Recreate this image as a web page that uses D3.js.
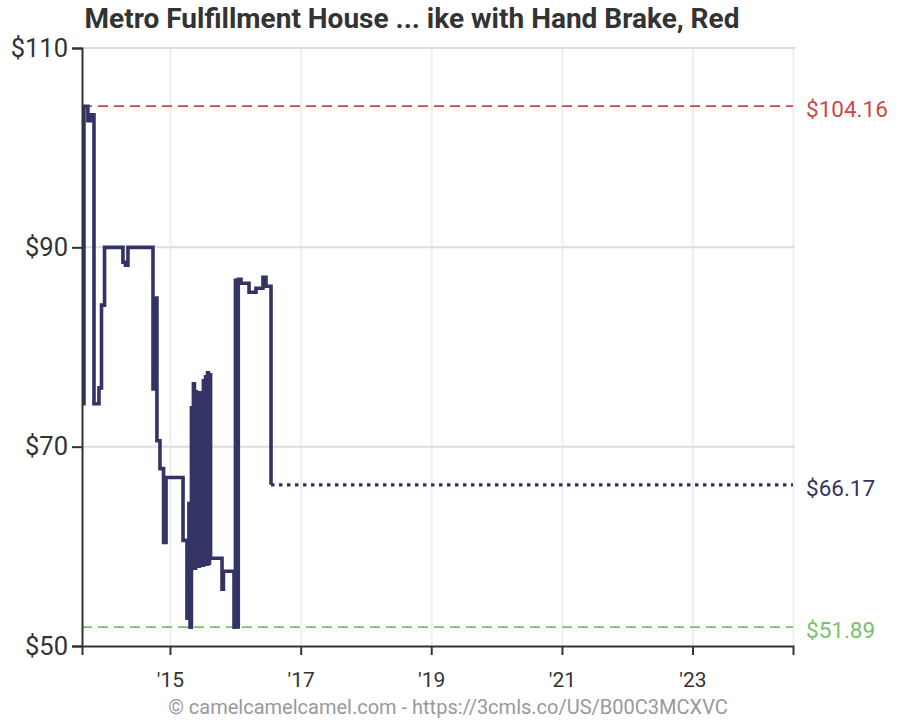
<!DOCTYPE html>
<html><head><meta charset="utf-8">
<script src="https://cdn.jsdelivr.net/npm/d3@7"></script>
<style>body{margin:0;background:#fff}svg{display:block;font-family:Roboto,sans-serif}</style>
</head><body><svg id="c" width="900" height="720"></svg>
<script>
const titleText = "Metro Fulfillment House ... ike with Hand Brake, Red";
const footerText = "© camelcamelcamel.com - https://3cmls.co/US/B00C3MCXVC";
const dates = ["2013-09-01","2013-09-07","2013-09-29","2013-10-16","2013-11-02","2013-11-30","2013-12-14","2013-12-31",
"2014-04-13","2014-04-27","2014-05-11","2014-09-28","2014-10-09","2014-10-20","2014-11-06","2014-11-26","2014-12-10",
"2015-03-15","2015-04-06","2015-04-17","2015-04-23","2015-05-01","2015-05-07","2015-05-12","2015-05-18","2015-05-24",
"2015-05-29","2015-06-04","2015-06-09","2015-06-15","2015-06-21","2015-06-26","2015-07-02","2015-07-07","2015-07-13",
"2015-07-19","2015-07-24","2015-07-30","2015-08-04","2015-08-10","2015-08-16","2015-10-19","2015-10-27","2015-12-25",
"2016-01-02","2016-01-10","2016-01-18","2016-02-02","2016-03-18","2016-04-26","2016-06-04","2016-06-21","2016-07-19"];
const prices = [74.3,104.16,102.7,103.3,74.3,75.9,84.2,90.0,
88.5,88.2,90.0,75.8,84.9,70.6,67.8,60.4,66.9,
60.6,52.8,64.3,51.89,73.9,58.0,76.3,57.8,75.5,
58.2,74.8,58.0,75.4,58.3,75.2,58.1,76.6,58.4,
77.0,58.2,77.4,58.3,77.2,58.8,55.7,57.5,51.89,
86.7,51.9,86.8,86.4,85.5,85.9,87.0,86.1,66.17];
const startDate = "2013-08-27", endDate = "2024-07-16";
const highPrice = 104.16, lowPrice = 51.89, lastPrice = 66.17;
const yTicks = [50,70,90,110];
const xTickDates = ["2015-01-01","2017-01-01","2019-01-01","2021-01-01","2023-01-01"];
const xTickLabels = ["'15","'17","'19","'21","'23"];

const parse = d3.timeParse("%Y-%m-%d");
const data = dates.map((d,i)=>({date:parse(d), price:prices[i]}));
const L=82,R=793,T=48,B=646;
const x = d3.scaleTime().domain([parse(startDate),parse(endDate)]).range([L,R]);
const y = d3.scaleLinear().domain([50,110]).range([B,T]);
const svg = d3.select("#c");

// gridlines
svg.append("g").selectAll("line").data(xTickDates.map(parse).concat([parse(endDate)])).join("line")
  .attr("x1",d=>x(d)+0.5).attr("x2",d=>x(d)+0.5).attr("y1",T).attr("y2",B)
  .attr("stroke","#eeeeee").attr("stroke-width",2);
svg.append("g").selectAll("line").data(yTicks.slice(1)).join("line")
  .attr("x1",L).attr("x2",R+2).attr("y1",d=>y(d)).attr("y2",d=>y(d))
  .attr("stroke","#dddddd").attr("stroke-width",2);

// reference lines
svg.append("line").attr("x1",L).attr("x2",R).attr("y1",y(highPrice)).attr("y2",y(highPrice))
  .attr("stroke","#c94a48").attr("stroke-width",1.8).attr("stroke-dasharray","10,6");
svg.append("line").attr("x1",L).attr("x2",R).attr("y1",y(lowPrice)).attr("y2",y(lowPrice))
  .attr("stroke","#77c26a").attr("stroke-width",1.8).attr("stroke-dasharray","10,6");

// price line
const line = d3.line().x(d=>x(d.date)).y(d=>y(d.price)).curve(d3.curveStepAfter);
svg.append("path").datum(data).attr("d",line).attr("fill","none")
  .attr("stroke","#333366").attr("stroke-width",3.6).attr("stroke-linejoin","miter");
const last = data[data.length-1];
svg.append("line").attr("x1",x(last.date)).attr("x2",R).attr("y1",y(lastPrice)).attr("y2",y(lastPrice))
  .attr("stroke","#333366").attr("stroke-width",3.4).attr("stroke-dasharray","3.5,4.5");

// axes
const yAxis = svg.append("g").attr("transform",`translate(${L},0)`)
  .call(d3.axisLeft(y).tickValues(yTicks).tickFormat(d=>"$"+d).tickSize(10).tickSizeOuter(10).tickPadding(4));
const xAxis = svg.append("g").attr("transform",`translate(0,${B})`)
  .call(d3.axisBottom(x).tickValues(xTickDates.map(parse)).tickFormat((d,i)=>xTickLabels[i]).tickSize(9).tickSizeOuter(9).tickPadding(17));
[yAxis,xAxis].forEach(g=>{
  g.selectAll("path,line").attr("stroke","#333").attr("stroke-width",2);
  g.selectAll("text").attr("fill","#333").style("font-family","Roboto");
});
yAxis.selectAll("text").style("font-size","25.5px");
xAxis.selectAll("text").style("font-size","21px");

// right labels
[[highPrice,"#c94a48"],[lastPrice,"#333366"],[lowPrice,"#77c26a"]].forEach(([v,c])=>{
  svg.append("text").attr("x",806).attr("y",y(v)+5).attr("dominant-baseline","middle")
    .attr("fill",c).style("font-size","22.5px").text("$"+v.toFixed(2));
});

svg.append("text").attr("x",412).attr("y",28).attr("text-anchor","middle")
  .attr("fill","#333").style("font-size","28px").style("font-weight","bold").text(titleText);
svg.append("text").attr("x",448).attr("y",714).attr("text-anchor","middle")
  .attr("fill","#999").style("font-size","20px").text(footerText);
</script></body></html>
